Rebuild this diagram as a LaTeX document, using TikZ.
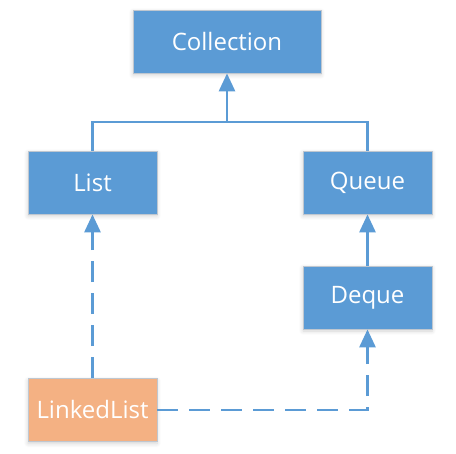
\documentclass[tikz,border=0pt]{standalone}
\usepackage{fontspec}
\setmainfont{Open Sans}
\usetikzlibrary{arrows.meta,shadows.blur}
\definecolor{boxblue}{HTML}{5B9BD5}
\definecolor{boxorange}{HTML}{F4B183}
\definecolor{boxedge}{HTML}{BFC7D0}
\definecolor{linkblue}{HTML}{5B9BD5}
\tikzset{
  classbox/.style={draw=boxedge, line width=0.8pt, fill=boxblue, text=white,
    minimum width=129pt, minimum height=63pt, inner sep=0pt,
    font=\fontsize{24}{28}\selectfont,
    blur shadow={shadow xshift=0pt, shadow yshift=-2pt, shadow blur steps=6, shadow opacity=18, shadow blur radius=4pt}},
  implbox/.style={classbox, fill=boxorange},
  link/.style={draw=linkblue, line width=2.8pt},
  inherit/.style={link, -{Triangle[length=18pt,width=16pt]}},
  realize/.style={inherit, dash pattern=on 21pt off 11pt}
}
\begin{document}
\begin{tikzpicture}[x=1pt,y=-1pt]
\useasboundingbox (0,0) rectangle (456,454);
\node[classbox, minimum width=188pt] (coll) at (227,41.5) {Collection};
\node[classbox] (list) at (92.5,182.5) {List};
\node[classbox] (queue) at (367.5,182.5) {Queue};
\node[classbox] (deque) at (367.5,297.5) {Deque};
\node[implbox] (ll) at (92.5,410) {LinkedList};
\coordinate (join) at (coll.south |- 0,122);
\draw[link] (list.north) |- (join) -| (queue.north);
\draw[inherit] (join) -- (coll.south);
\draw[inherit] (deque.north) -- (queue.south);
\draw[realize] (ll.north) -- (list.south);
\draw[realize] (ll.east) -| (deque.south);
\end{tikzpicture}
\end{document}
